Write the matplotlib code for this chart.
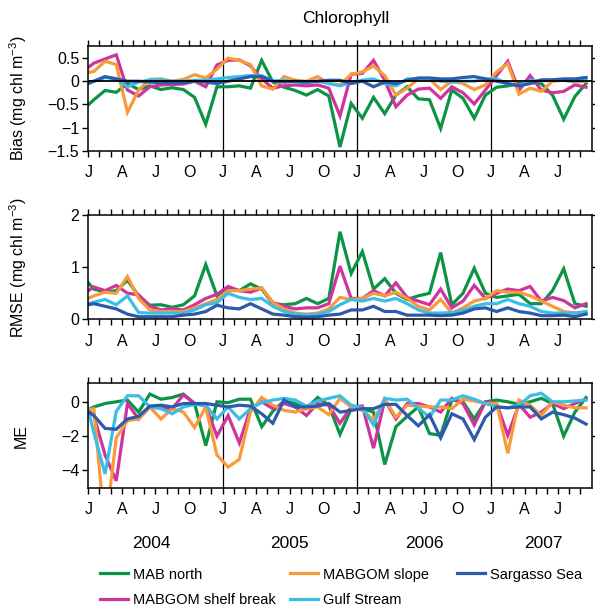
import numpy as np
import matplotlib
matplotlib.use('Agg')
import matplotlib.pyplot as plt
from matplotlib.lines import Line2D

plt.rcParams['font.family'] = ['Liberation Sans', 'DejaVu Sans']
plt.rcParams['mathtext.default'] = 'regular'

# monthly values, Dec 2003 .. Sep 2007 (month index -1 .. 44)
months = np.arange(-1, 45)

regions = ['MAB north', 'MABGOM shelf break', 'MABGOM slope', 'Gulf Stream', 'Sargasso Sea']
colors = ['#0b9444', '#d0339b', '#f99a3a', '#3bbde4', '#2c5aac']

bias_mab_north = [-0.62, -0.40, -0.20, -0.24, -0.05, -0.18, -0.10, -0.18, -0.14, -0.18, -0.35, -0.93,
                  -0.12, -0.12, -0.10, -0.15, 0.45, -0.02, -0.13, -0.20, -0.30, -0.18, -0.32, -1.42,
                  -0.48, -0.80, -0.35, -0.70, -0.30, -0.12, -0.38, -0.40, -1.02, -0.19, -0.37, -0.80,
                  -0.30, -0.13, -0.10, -0.05, -0.03, -0.05, -0.30, -0.82, -0.33, -0.05]
bias_shelf_break = [0.21, 0.39, 0.48, 0.57, -0.19, -0.32, -0.12, -0.08, -0.07, -0.06, 0.00, -0.12,
                    0.35, 0.45, 0.46, 0.33, 0.05, -0.15, -0.10, -0.08, -0.10, -0.08, -0.15, -0.75,
                    0.15, 0.17, 0.45, 0.02, -0.55, -0.30, -0.17, -0.15, -0.37, -0.12, -0.25, -0.49,
                    -0.19, 0.12, 0.43, -0.20, 0.12, -0.19, -0.25, -0.22, -0.08, -0.13]
bias_slope = [0.17, 0.21, 0.43, 0.36, -0.67, -0.19, 0.04, 0.05, 0.00, 0.04, 0.14, 0.07,
              0.26, 0.50, 0.45, 0.36, -0.10, -0.17, 0.10, 0.02, 0.00, 0.10, -0.05, -0.08,
              0.15, 0.20, 0.33, 0.12, -0.30, -0.15, 0.05, 0.05, -0.18, 0.00, -0.05, -0.18,
              -0.08, 0.20, 0.38, -0.28, -0.15, -0.22, 0.00, 0.02, -0.02, 0.00]
bias_gulf_stream = [-0.04, 0.00, 0.08, 0.05, -0.12, -0.02, 0.03, 0.03, 0.00, 0.00, 0.02, 0.02,
                    0.05, 0.08, 0.10, 0.12, 0.12, 0.00, 0.02, -0.02, -0.03, 0.00, -0.05, -0.10,
                    -0.02, 0.02, 0.05, -0.05, -0.10, 0.05, 0.05, 0.05, 0.00, -0.02, 0.00, 0.00,
                    0.05, 0.05, -0.05, -0.10, 0.02, 0.00, 0.03, 0.02, 0.00, 0.02]
bias_sargasso = [-0.10, 0.00, 0.10, 0.05, 0.00, 0.00, -0.02, -0.03, -0.03, -0.03, 0.00, -0.02,
                 -0.05, 0.00, 0.05, 0.10, 0.10, 0.00, -0.02, 0.00, -0.02, 0.00, 0.02, 0.02,
                 -0.05, 0.00, -0.12, -0.02, -0.05, 0.02, 0.07, 0.07, 0.05, 0.05, 0.08, 0.10,
                 0.05, 0.00, -0.05, -0.10, -0.05, 0.03, 0.03, 0.05, 0.05, 0.08]

rmse_mab_north = [0.82, 0.58, 0.52, 0.55, 0.75, 0.45, 0.27, 0.28, 0.23, 0.28, 0.45, 1.05,
                  0.45, 0.60, 0.55, 0.68, 0.58, 0.30, 0.28, 0.30, 0.40, 0.30, 0.40, 1.68,
                  0.88, 1.30, 0.58, 0.78, 0.50, 0.38, 0.45, 0.50, 1.28, 0.28, 0.50, 0.98,
                  0.50, 0.42, 0.45, 0.48, 0.30, 0.30, 0.55, 0.97, 0.30, 0.25]
rmse_shelf_break = [0.48, 0.62, 0.55, 0.65, 0.50, 0.47, 0.25, 0.18, 0.20, 0.18, 0.28, 0.40,
                    0.48, 0.63, 0.55, 0.52, 0.60, 0.32, 0.25, 0.20, 0.22, 0.22, 0.30, 1.02,
                    0.40, 0.40, 0.55, 0.45, 0.70, 0.42, 0.35, 0.28, 0.58, 0.22, 0.35, 0.65,
                    0.40, 0.50, 0.58, 0.55, 0.63, 0.35, 0.42, 0.36, 0.22, 0.30]
rmse_slope = [0.35, 0.45, 0.52, 0.50, 0.82, 0.40, 0.18, 0.15, 0.15, 0.15, 0.22, 0.30,
              0.38, 0.55, 0.55, 0.58, 0.60, 0.32, 0.20, 0.12, 0.10, 0.12, 0.20, 0.42,
              0.38, 0.40, 0.50, 0.45, 0.52, 0.40, 0.25, 0.18, 0.38, 0.12, 0.22, 0.35,
              0.40, 0.55, 0.52, 0.52, 0.45, 0.35, 0.25, 0.15, 0.12, 0.12]
rmse_gulf_stream = [0.27, 0.33, 0.38, 0.28, 0.45, 0.13, 0.12, 0.12, 0.12, 0.12, 0.18, 0.28,
                    0.32, 0.50, 0.42, 0.38, 0.40, 0.25, 0.15, 0.10, 0.08, 0.10, 0.15, 0.28,
                    0.38, 0.35, 0.40, 0.35, 0.40, 0.30, 0.18, 0.12, 0.12, 0.13, 0.17, 0.25,
                    0.30, 0.30, 0.38, 0.30, 0.25, 0.15, 0.12, 0.12, 0.12, 0.15]
rmse_sargasso = [0.26, 0.30, 0.25, 0.20, 0.10, 0.05, 0.05, 0.05, 0.05, 0.08, 0.10, 0.15,
                 0.27, 0.22, 0.20, 0.30, 0.20, 0.10, 0.08, 0.05, 0.04, 0.05, 0.08, 0.10,
                 0.18, 0.18, 0.25, 0.15, 0.15, 0.08, 0.08, 0.08, 0.07, 0.08, 0.12, 0.20,
                 0.22, 0.15, 0.22, 0.15, 0.12, 0.07, 0.07, 0.08, 0.05, 0.10]

me_mab_north = [-0.60, -0.30, -0.10, 0.00, 0.10, -0.60, 0.45, 0.15, 0.25, 0.45, -0.10, -2.55,
                0.00, -0.05, 0.15, 0.15, -1.45, -0.55, 0.05, -0.10, -0.40, 0.25, -0.20, -1.90,
                -0.40, -0.40, -0.60, -3.65, -1.45, -0.85, -0.30, -1.85, -1.95, 0.10, 0.00, -1.00,
                0.00, 0.10, 0.00, -0.15, 0.00, 0.20, -0.10, -2.00, -0.60, 0.25]
me_shelf_break = [-0.20, -0.80, -3.10, -4.60, -0.10, -1.00, -0.30, -0.35, -0.40, 0.40, -0.10, -0.25,
                  -2.00, -0.80, -2.40, -0.40, 0.00, -0.40, -0.10, -0.30, -0.80, -0.10, -0.20, -1.25,
                  -0.30, -0.25, -2.70, 0.10, -1.00, -0.10, -0.10, -0.30, -0.60, 0.20, -0.10, -1.35,
                  0.00, -0.10, -1.95, -0.15, -0.90, -0.60, -0.10, -0.40, -0.10, 0.15]
me_slope = [-0.50, -0.40, -7.50, -2.10, -1.10, -1.00, -0.30, -1.00, -0.40, -0.60, -1.50, -0.30,
            -3.10, -3.80, -3.35, -0.60, 0.25, -0.20, -0.50, -0.60, -0.40, -0.30, -0.75, 0.20,
            -0.30, -0.50, -1.05, 0.15, -0.90, -0.20, -0.25, -0.30, -0.30, -0.40, 0.15, 0.05,
            -0.10, -0.10, -3.00, 0.10, -0.20, -0.80, 0.00, -0.20, -0.35, -0.35]
me_gulf_stream = [0.80, -1.80, -4.20, -0.55, 0.35, 0.35, -0.30, -0.40, -0.70, -0.30, -0.15, -0.20,
                  -1.00, -0.30, -1.00, -0.40, -0.05, 0.10, 0.20, 0.10, -0.25, 0.05, 0.20, 0.35,
                  -0.20, -0.35, -1.35, 0.20, 0.10, 0.15, -0.35, -0.90, 0.10, 0.10, 0.35, 0.15,
                  -0.10, -0.30, -0.35, -0.20, 0.35, 0.50, 0.00, 0.00, 0.05, 0.10]
me_sargasso = [-0.40, -0.80, -1.55, -1.60, -1.00, -0.85, -0.25, -0.20, -0.30, -0.10, -0.10, -0.10,
               -0.20, -0.30, -0.20, -0.25, -0.70, -1.25, 0.10, -0.30, -0.30, -0.25, -0.10, -0.60,
               -0.50, -0.40, -0.40, -0.15, -0.15, -0.80, -1.40, -0.75, -2.10, -0.70, -1.00, -2.20,
               -0.90, -0.30, -0.35, -0.30, -0.30, -1.00, -0.60, -0.75, -0.95, -1.30]

bias = [bias_mab_north, bias_shelf_break, bias_slope, bias_gulf_stream, bias_sargasso]
rmse = [rmse_mab_north, rmse_shelf_break, rmse_slope, rmse_gulf_stream, rmse_sargasso]
me = [me_mab_north, me_shelf_break, me_slope, me_gulf_stream, me_sargasso]

years = ['2004', '2005', '2006', '2007']
month_letters = ['J', 'A', 'J', 'O']

bias_ticks = [0.5, 0, -0.5, -1, -1.5]
rmse_ticks = [0, 1, 2]
me_ticks = [0, -2, -4]

x = months + 0.5  # mid-month

fig = plt.figure(figsize=(5.95, 6.08), dpi=100)

panels = [
    (bias, 'Bias (mg chl m$^{-3}$)', bias_ticks, (-1.5, 0.75), 0.7521),
    (rmse, 'RMSE (mg chl m$^{-3}$)', rmse_ticks, (0, 2), 0.4748),
    (me, 'ME', me_ticks, (-5, 1.07), 0.1979),
]

major = np.arange(0, 45, 3)
axes = []
for data, ylabel, yticks, ylim, bottom in panels:
    ax = fig.add_axes([0.1484, bottom, 0.846, 0.1715])
    for i in (1, 2, 3):
        ax.axvline(12 * i, color='k', lw=0.9, zorder=1)
    for vals, c in zip(data, colors):
        ax.plot(x, vals, color=c, lw=2.3, zorder=2, solid_joinstyle='miter')
    ax.set_xlim(0, 45)
    ax.set_ylim(*ylim)

    ax.set_xticks(major)
    ax.set_xticklabels((month_letters * 4)[:len(major)])
    ax.set_xticks(np.arange(45), minor=True)
    ax.set_yticks(yticks)
    ax.set_yticklabels([f'{t:g}'.replace('-', '\u2212') for t in yticks])
    ax.tick_params(which='both', direction='out', top=True, right=True,
                   length=4.5, width=1.0, labelsize=11.5, pad=2)
    ax.tick_params(axis='x', which='both', pad=6)
    for s in ax.spines.values():
        s.set_linewidth(1.1)

    ax.set_ylabel(ylabel, fontsize=11.5)
    ax.yaxis.set_label_coords(-0.118, 0.5)
    axes.append(ax)

axes[0].axhline(0, color='k', lw=1.3, zorder=5)

year_pos = [5.6, 18.0, 30.0, 40.7]
for xp, yr in zip(year_pos, years):
    axes[2].text(xp, -0.535, yr, transform=axes[2].get_xaxis_transform(),
                 ha='center', va='center', fontsize=12.5)

fig.text(0.5815, 0.9696, 'Chlorophyll', ha='center', va='center', fontsize=12.5)

# legend, one column at a time
handles = [Line2D([], [], color=c, lw=2.3) for c in colors]
columns = [([0, 1], 0.168), ([2, 3], 0.4874), ([4], 0.768)]
for idx, xpos in columns:
    fig.legend([handles[i] for i in idx], [regions[i] for i in idx],
               loc='upper left', bbox_to_anchor=(xpos, 0.0665), frameon=False,
               borderaxespad=0, borderpad=0, handlelength=1.92, handletextpad=0.35,
               labelspacing=0.8, fontsize=10.5)

plt.savefig('out.png', dpi=100)
